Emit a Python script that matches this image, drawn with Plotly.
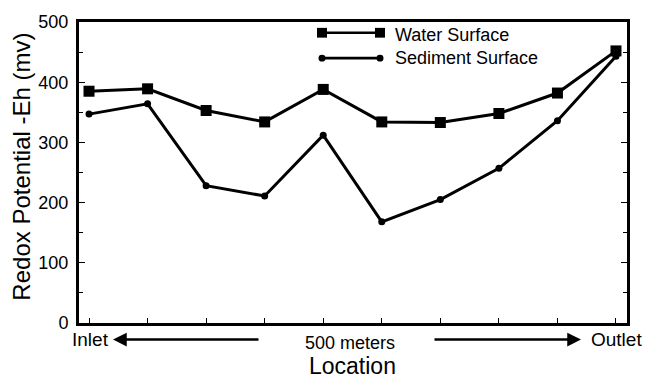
import plotly.graph_objects as go

# Redox potential along the wetland, inlet (0) to outlet (9)
stations = list(range(10))
water_surface = [385, 389, 353, 334, 388, 334, 333, 348, 382, 452]
sediment_surface = [347, 364, 228, 211, 312, 168, 205, 257, 336, 443]
y_ticks = [0, 100, 200, 300, 400, 500]

W, H = 658, 379
L, R, T, B = 79, 31, 15, 56
PW, PH = W - L - R, H - T - B
FONT = "Liberation Sans, Arial, Helvetica, sans-serif"


def px(x):
    return (x - L) / PW


def py(y):
    return (H - B - y) / PH


fig = go.Figure()
fig.add_trace(go.Scatter(
    x=stations, y=water_surface, mode="lines+markers", name="Water Surface",
    line=dict(color="black", width=3),
    marker=dict(symbol="square", size=11, color="black"),
))
fig.add_trace(go.Scatter(
    x=stations, y=sediment_surface, mode="lines+markers", name="Sediment Surface",
    line=dict(color="black", width=3),
    marker=dict(symbol="circle", size=7, color="black"),
))

# hand-drawn legend keys
shapes = []
for yk, kind, sz in [(26, "rect", 5), (52, "circle", 3.5)]:
    x0, x1 = 322, 380
    shapes.append(dict(type="line", xref="paper", yref="paper",
                       x0=px(x0), x1=px(x1), y0=py(yk), y1=py(yk),
                       line=dict(color="black", width=2.6)))
    for xc in (x0, x1):
        shapes.append(dict(type=kind, xref="paper", yref="paper",
                           x0=px(xc - sz), x1=px(xc + sz),
                           y0=py(yk + sz), y1=py(yk - sz),
                           fillcolor="black", line=dict(color="black", width=0)))

annotations = [
    dict(text="Water Surface", x=px(393), y=py(28), xanchor="left", yanchor="middle"),
    dict(text="Sediment Surface", x=px(393), y=py(52), xanchor="left", yanchor="middle"),
    dict(text="Inlet", x=px(90), y=py(340), xanchor="center", yanchor="middle", font_size=19),
    dict(text="500 meters", x=px(350), y=py(343), xanchor="center", yanchor="middle", font_size=18),
    dict(text="Outlet", x=px(616.5), y=py(340), xanchor="center", yanchor="middle", font_size=19),
    dict(text="Location", x=px(352), y=py(367), xanchor="center", yanchor="middle", font_size=23),
    dict(text="Redox Potential -Eh (mv)", x=px(22), y=py(163), textangle=-90,
         xanchor="center", yanchor="middle", font_size=24),
]
for a in annotations:
    a.update(xref="paper", yref="paper", showarrow=False)
    a.setdefault("font_size", 18)

# arrows pointing toward inlet and outlet
for head, tail in [(113, 260), (581, 433)]:
    annotations.append(dict(
        xref="paper", yref="paper", x=px(head), y=py(340), text="",
        showarrow=True, axref="pixel", ayref="pixel", ax=tail - head, ay=0,
        arrowhead=2, arrowsize=1.1, arrowwidth=2.5, arrowcolor="black",
    ))

fig.update_layout(
    width=W, height=H,
    margin=dict(l=L, r=R, t=T, b=B),
    paper_bgcolor="white", plot_bgcolor="white",
    showlegend=False,
    font=dict(family=FONT, color="black", size=18),
    shapes=shapes,
    annotations=annotations,
)
fig.update_xaxes(
    range=[-0.171, 9.188], showgrid=False, zeroline=False,
    showline=True, linecolor="black", linewidth=3, mirror=True,
    tickmode="array", tickvals=stations, ticks="inside", ticklen=5,
    tickwidth=1.2, tickcolor="black", showticklabels=False,
)
fig.update_yaxes(
    range=[0, 500], showgrid=False, zeroline=False,
    showline=True, linecolor="black", linewidth=3, mirror="ticks",
    tickmode="array", tickvals=y_ticks, ticks="inside", ticklen=6,
    tickwidth=1.2, tickcolor="black", tickfont=dict(size=18),
    ticklabelstandoff=4,
    minor=dict(dtick=50, ticks="inside", ticklen=4, tickwidth=1, tickcolor="black"),
)

fig.write_html("out.html")
